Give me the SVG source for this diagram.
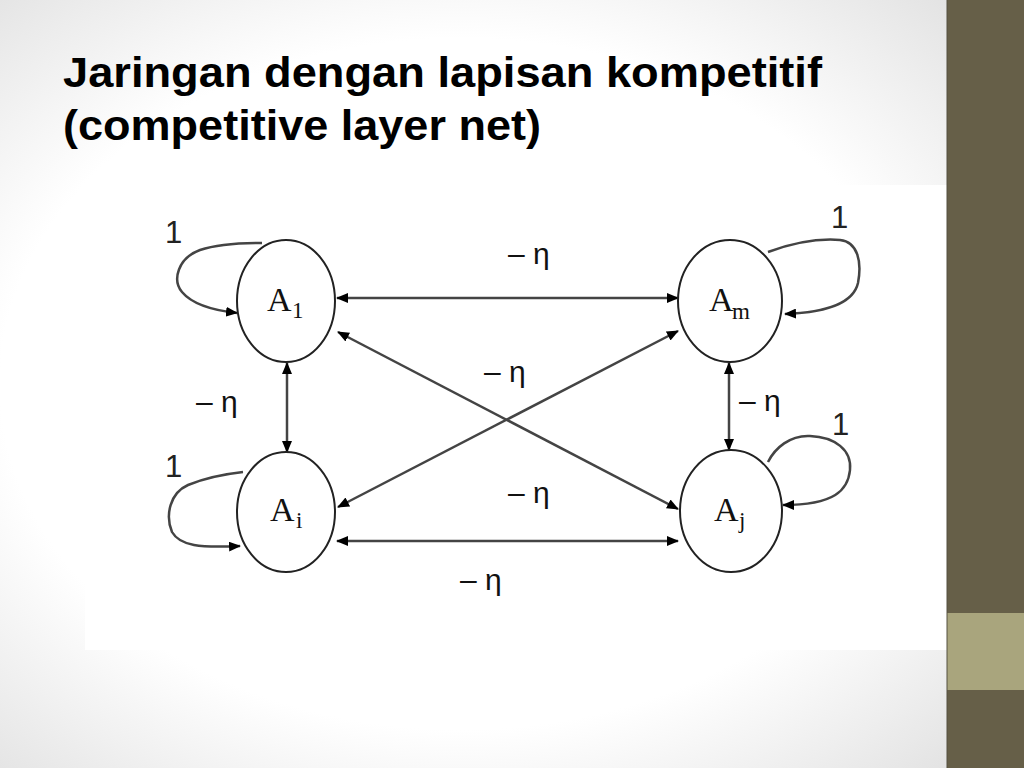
<svg xmlns="http://www.w3.org/2000/svg" width="1024" height="768" viewBox="0 0 1024 768">
<style>
.node ellipse{fill:#fff;stroke:#222;stroke-width:2}
.lbl{font-family:"Liberation Serif",serif;font-size:34px;fill:#111}
.sub{font-family:"Liberation Serif",serif;font-size:23px;fill:#111}
.edge{fill:none;stroke:#444;stroke-width:2.5}
.ew{font-family:"Liberation Sans",sans-serif;font-size:30px;fill:#111}
.one{font-family:"Liberation Sans",sans-serif;font-size:31px;fill:#222}
.title{font-family:"Liberation Sans",sans-serif;font-weight:bold;font-size:43px;fill:#000}
</style>
<defs>
<radialGradient id="bg" cx="0.45" cy="0.5" r="0.75">
<stop offset="0.6" stop-color="#ffffff"/>
<stop offset="1" stop-color="#dcdcdc"/>
</radialGradient>
<marker id="ah" viewBox="0 0 12 10" refX="11" refY="5" markerWidth="12" markerHeight="10" markerUnits="userSpaceOnUse" orient="auto-start-reverse">
<path d="M0,0 L12,5 L0,10 z" fill="#000"/>
</marker>
</defs>
<rect x="0" y="0" width="1024" height="768" fill="url(#bg)"/>
<rect x="85" y="185" width="862" height="465" fill="#fff"/>
<rect x="947" y="0" width="77" height="768" fill="#665f48"/>
<rect x="947" y="613" width="77" height="77" fill="#a9a57d"/>
<line x1="947" y1="0" x2="947" y2="768" stroke="#555040" stroke-width="1"/>

<text class="title" x="63" y="87" textLength="759" lengthAdjust="spacingAndGlyphs">Jaringan dengan lapisan kompetitif</text>
<text class="title" x="63" y="140" textLength="478" lengthAdjust="spacingAndGlyphs">(competitive layer net)</text>

<g id="connectors">
<line class="edge" x1="337" y1="298" x2="678" y2="298" marker-start="url(#ah)" marker-end="url(#ah)"/>
<line class="edge" x1="337" y1="541" x2="678" y2="541" marker-start="url(#ah)" marker-end="url(#ah)"/>
<line class="edge" x1="338" y1="332" x2="678" y2="509" marker-start="url(#ah)" marker-end="url(#ah)"/>
<line class="edge" x1="338" y1="507" x2="678" y2="331" marker-start="url(#ah)" marker-end="url(#ah)"/>
<line class="edge" x1="287" y1="363" x2="287" y2="452" marker-start="url(#ah)" marker-end="url(#ah)"/>
<line class="edge" x1="729" y1="363" x2="729" y2="450" marker-start="url(#ah)" marker-end="url(#ah)"/>
<path class="edge" d="M262,243 C240,243 218,244 200,250 C178,258 172,280 182,292 C192,304 210,310 237,313" marker-end="url(#ah)"/>
<path class="edge" d="M768,252 C790,244 815,238 840,240 C858,242 862,262 858,283 C854,300 835,312 785,314" marker-end="url(#ah)"/>
<path class="edge" d="M243,472 C225,474 205,478 188,485 C170,493 165,515 172,532 C180,546 200,548 240,546" marker-end="url(#ah)"/>
<path class="edge" d="M768,462 C775,448 790,435 810,436 C835,437 852,450 850,470 C848,490 835,505 783,505" marker-end="url(#ah)"/>
<text class="ew" x="508" y="264">– η</text>
<text class="ew" x="484" y="382">– η</text>
<text class="ew" x="508" y="503">– η</text>
<text class="ew" x="460" y="590">– η</text>
<text class="ew" x="196" y="412">– η</text>
<text class="ew" x="739" y="411">– η</text>
<text class="one" x="165" y="243">1</text>
<text class="one" x="831" y="228">1</text>
<text class="one" x="165" y="477">1</text>
<text class="one" x="832" y="435">1</text>
</g>

<g id="node-A1" class="node">
<ellipse cx="286" cy="301" rx="49" ry="61"/>
<text class="lbl" x="267" y="311">A</text><text class="sub" x="292" y="318">1</text>
</g>
<g id="node-Am" class="node">
<ellipse cx="730" cy="301" rx="52" ry="61"/>
<text class="lbl" x="709" y="311">A</text><text class="sub" x="732" y="319">m</text>
</g>
<g id="node-Ai" class="node">
<ellipse cx="286" cy="512" rx="49" ry="60"/>
<text class="lbl" x="270" y="521">A</text><text class="sub" x="296" y="528">i</text>
</g>
<g id="node-Aj" class="node">
<ellipse cx="731" cy="511" rx="51" ry="61"/>
<text class="lbl" x="714" y="521">A</text><text class="sub" x="739" y="528">j</text>
</g>
</svg>
